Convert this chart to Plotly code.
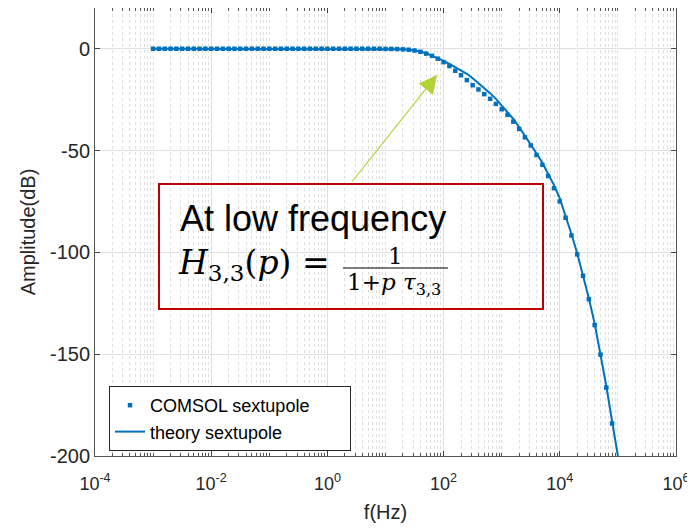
import plotly.graph_objects as go

# ---- data ----
comsol_logf = [-3.0, -2.9, -2.8, -2.7, -2.6, -2.5, -2.4, -2.3, -2.2, -2.1,
               -2.0, -1.9, -1.8, -1.7, -1.6, -1.5, -1.4, -1.3, -1.2, -1.1,
               -1.0, -0.9, -0.8, -0.7, -0.6, -0.5, -0.4, -0.3, -0.2, -0.1,
               0.0, 0.1, 0.2, 0.3, 0.4, 0.5, 0.6, 0.7, 0.8, 0.9,
               1.0, 1.1, 1.2, 1.3, 1.4, 1.5, 1.6, 1.7, 1.8, 1.9,
               2.0, 2.1, 2.2, 2.3, 2.4, 2.5, 2.6, 2.7, 2.8, 2.9,
               3.0, 3.1, 3.2, 3.3, 3.4, 3.5, 3.6, 3.7, 3.8, 3.9,
               4.0, 4.1, 4.2, 4.3, 4.4, 4.5, 4.6, 4.7, 4.8, 4.9]
comsol_db = [0, 0, 0, 0, 0, 0, 0, 0, 0, 0,
             0, 0, 0, 0, 0, 0, 0, 0, 0, 0,
             0, 0, 0, 0, 0, 0, 0, 0, 0, 0,
             0, 0, 0, 0, 0, 0, 0, 0, 0, 0,
             -0.1, -0.1, -0.2, -0.3, -0.5, -0.9, -1.5, -2.4, -3.5, -4.9,
             -6.6, -8.5, -10.8, -13.0, -15.4, -17.9, -20.0, -22.3, -24.6, -27.1,
             -29.7, -32.5, -35.8, -39.4, -43.5, -47.5, -52.2, -57.0, -62.5, -68.5,
             -75.0, -83.0, -91.7, -101.0, -111.5, -123.0, -135.7, -150.2, -166.4, -184.0]

theory_logf = [-3.0, -2.0, -1.0, 0.0, 1.0, 1.1, 1.2, 1.3, 1.4, 1.5, 1.6, 1.7, 1.8, 1.9,
               2.0, 2.1, 2.2, 2.3, 2.4, 2.5, 2.6, 2.7, 2.8, 2.9,
               3.0, 3.1, 3.2, 3.3, 3.4, 3.5, 3.6, 3.7, 3.8, 3.9,
               4.0, 4.1, 4.2, 4.3, 4.4, 4.5, 4.6, 4.7, 4.8, 4.9, 5.0]
theory_db = [0, 0, 0, 0, -0.1, -0.1, -0.2, -0.3, -0.5, -0.9, -1.4, -2.2, -3.4, -4.6,
             -6.0, -7.5, -9.0, -10.6, -12.3, -14.5, -16.8, -19.2, -21.8, -24.6,
             -27.8, -31.0, -34.5, -38.5, -42.5, -47.0, -51.5, -56.0, -61.5, -67.0,
             -73.5, -82.0, -91.0, -100.5, -111.0, -122.5, -135.0, -149.5, -165.5, -183.0, -200.0]

x_tick_vals = [1e-4, 1e-2, 1e0, 1e2, 1e4, 1e6]
x_tick_text = ["10<sup>-4</sup>", "10<sup>-2</sup>", "10<sup>0</sup>",
               "10<sup>2</sup>", "10<sup>4</sup>", "10<sup>6</sup>"]
y_tick_vals = [-200, -150, -100, -50, 0]
y_tick_text = ["-200", "-150", "-100", "-50", "0"]

comsol_f = [10 ** v for v in comsol_logf]
theory_f = [10 ** v for v in theory_logf]

# minor ticks (axis decoration)
minor_vals = []
for e in range(-4, 6):
    for m in range(1, 10):
        v = m * 10 ** e
        if not (m == 1 and e % 2 == 0):
            minor_vals.append(v)

BLUE = "#0072BD"
TXT = "#262626"
PAD = "\u00a0" * 7  # widens the legend box

fig = go.Figure()
fig.add_trace(go.Scatter(x=comsol_f, y=comsol_db, mode="markers", name="COMSOL sextupole" + PAD,
                         marker=dict(symbol="square", size=4.5, color=BLUE, line=dict(width=0))))
fig.add_trace(go.Scatter(x=theory_f, y=theory_db, mode="lines", name="theory sextupole",
                         line=dict(color=BLUE, width=2)))

OFF = 8  # page body margin
W, H = 695 - OFF, 529 - OFF
L, R, T, B = 87, 19, 0, 73
pw = W - L - R
ph = H - T - B

def px(x):  # page pixel -> paper
    return (x - OFF - L) / pw

def py(y):
    return (OFF + T + ph - y) / ph

fig.update_layout(
    width=W, height=H,
    margin=dict(l=L, r=R, t=T, b=B),
    paper_bgcolor="white", plot_bgcolor="white",
    font=dict(family="Liberation Sans, Arial, sans-serif", size=20, color=TXT),
    showlegend=True,
    legend=dict(x=px(109), y=py(386), xanchor="left", yanchor="top",
                bgcolor="white", bordercolor=TXT, borderwidth=1,
                font=dict(size=18, color="#000000"), tracegroupgap=0),
    xaxis=dict(type="log", range=[-4, 6], tickvals=x_tick_vals, ticktext=x_tick_text,
               automargin=False, ticklabelstandoff=11,
               ticks="inside", ticklen=5, tickcolor="#444", showline=True, linecolor="#555",
               linewidth=1, mirror="allticks", showgrid=True, gridcolor="#e0e0e0", gridwidth=1,
               zeroline=False,
               minor=dict(tickvals=minor_vals, ticks="inside", ticklen=3, tickcolor="#555",
                          showgrid=True, gridcolor="#dedede", griddash="dot", gridwidth=1),
               title=dict(text="f(Hz)", standoff=12, font=dict(size=20)),
               tickfont=dict(size=18)),
    yaxis=dict(range=[-200, 20], tickvals=y_tick_vals, ticktext=y_tick_text,
               automargin=False,
               ticks="inside", ticklen=5, tickcolor="#444", showline=True, linecolor="#555",
               linewidth=1, mirror="allticks", showgrid=True, gridcolor="#e0e0e0", gridwidth=1,
               zeroline=False,
               title=dict(text="Amplitude(dB)", standoff=8, font=dict(size=20)),
               tickfont=dict(size=20)),
)

# red box
fig.add_shape(type="rect", xref="paper", yref="paper",
              x0=px(159), x1=px(543), y0=py(309), y1=py(184),
              line=dict(color="#C00000", width=2), fillcolor="rgba(0,0,0,0)")
# fraction bar
fig.add_shape(type="line", xref="paper", yref="paper",
              x0=px(343), x1=px(448), y0=py(268), y1=py(268),
              line=dict(color="#000000", width=1))

fig.add_annotation(xref="paper", yref="paper", x=px(178), y=py(218), xanchor="left",
                   yanchor="middle", showarrow=False, text="At low frequency",
                   font=dict(size=36, color="#000000", family="Liberation Sans, Arial, sans-serif"))
fig.add_annotation(xref="paper", yref="paper", x=px(176), y=py(264), xanchor="left",
                   yanchor="middle", showarrow=False,
                   text="<i>H</i><sub>3,3</sub>(<i>p</i>) =",
                   font=dict(size=33, color="#000000", family="DejaVu Serif, serif"))
fig.add_annotation(xref="paper", yref="paper", x=px(395), y=py(256), xanchor="center",
                   yanchor="middle", showarrow=False, text="1",
                   font=dict(size=23, color="#000000", family="DejaVu Serif, serif"))
fig.add_annotation(xref="paper", yref="paper", x=px(394), y=py(284), xanchor="center",
                   yanchor="middle", showarrow=False,
                   text="1+<i>p</i> <i>τ</i><sub>3,3</sub>",
                   font=dict(size=23, color="#000000", family="DejaVu Serif, serif"))

# arrow
fig.add_annotation(xref="paper", yref="paper", axref="pixel", ayref="pixel",
                   x=px(437), y=py(75), ax=351 - 437, ay=183 - 75,
                   showarrow=True, arrowhead=2, arrowsize=3, arrowwidth=1.2,
                   arrowcolor="#B2D235", text="")

fig.write_html("out.html")
